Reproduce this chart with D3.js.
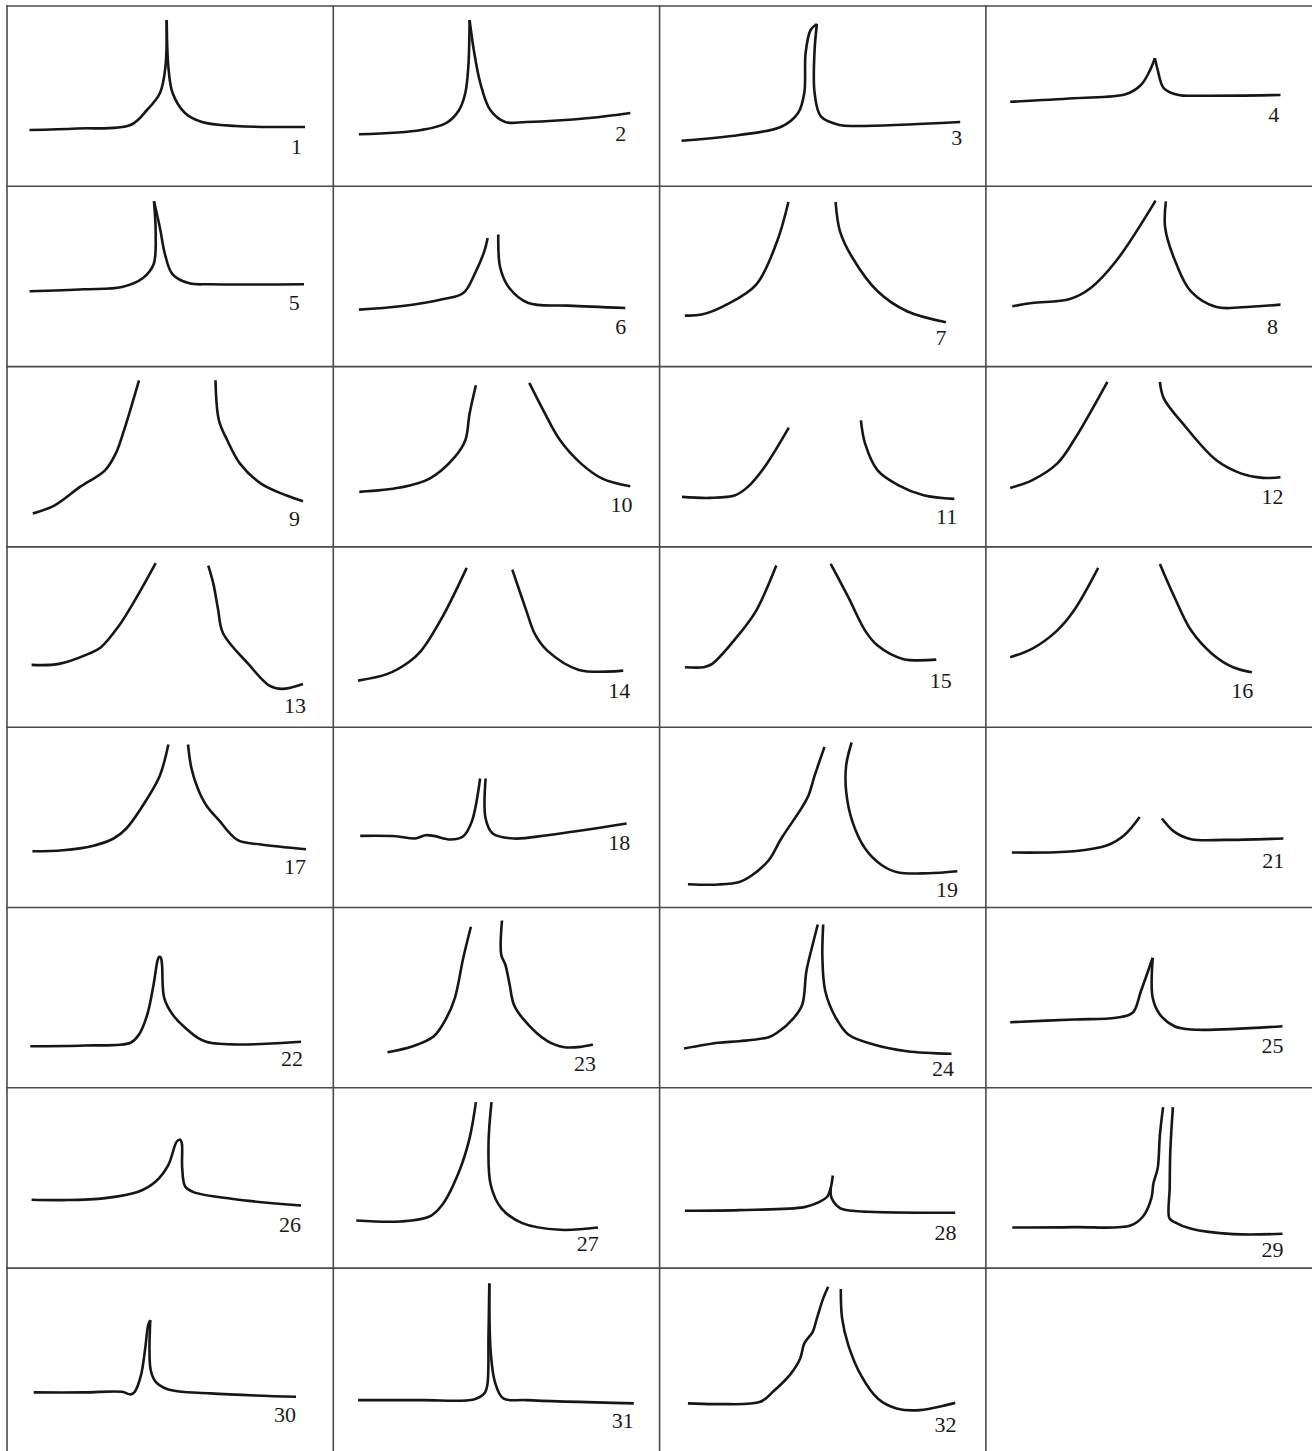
<!DOCTYPE html>
<html>
<head>
<meta charset="utf-8">
<script src="https://cdn.jsdelivr.net/npm/d3@7"></script>
<style>
  html, body { margin: 0; padding: 0; background: #fff; }
  svg { display: block; }
</style>
</head>
<body>
<div id="chart"></div>
<script>
// ---- data: curve shapes, in cell units (x 0..326, y 0..180), one array per panel ----
const curve01 = [
  [[22.5,124],[70,122.5],[123.5,119],[140,104],[153,87],[158.4,61],[159.7,14]],
  [[159.7,14],[161.4,61],[165.6,87],[178,107],[195,116],[228.7,120],[298,121]]
];
const curve02 = [
  [[25.6,128.3],[88,124],[113,117],[125.8,104],[132,87],[135,61],[136.3,14]],
  [[136.3,14],[140.5,44],[147,77],[157,104],[172,116],[193,116],[256,112],[297,107]]
];
const curve03 = [
  [[22,134.7],[79.8,129],[121.7,120.7],[138.5,107],[144.7,87],[146,47],[151,24],[157.3,18]],
  [[157.3,18],[155,44],[155,87],[161.5,110.7],[180,119],[197,120],[300.6,116]]
];
const curve04 = [
  [[24.3,95.7],[88,92.3],[140.4,88],[155,79],[163.4,65.7],[169,52.3]],
  [[169,52.3],[171.8,64],[178,82.3],[192.8,89],[213.7,89.7],[294.6,89]]
];
const curve05 = [
  [[22.5,105],[77,103],[115,100.7],[136,91.7],[146.6,78],[148.7,48],[147,15]],
  [[147,15],[153,42],[158,68],[165.6,88],[182.4,97],[203,98],[297,98]]
];
const curve06 = [
  [[25.6,123.3],[67,120],[109,113],[130,106.7],[142.6,85],[151,65],[154.4,51.7]],
  [[165,48.3],[167,81.7],[176,101.7],[195,116.7],[235,119.3],[292,121.7]]
];
const curve07 = [
  [[25.3,129.3],[42,128.3],[67,118.3],[96.6,98.3],[117.5,55],[128.8,15.7]],
  [[176,15.7],[180.4,45],[193,71.7],[218,105],[247.4,125],[286.4,136]]
];
const curve08 = [
  [[26.4,120],[46,116.7],[84,112.7],[104.8,101.7],[130,75],[169.7,14.3]],
  [[180,15],[179.3,41.7],[190.7,78.3],[205,105],[230.5,120.7],[255.6,121],[294.6,118.3]]
];
const curve09 = [
  [[25.8,147],[47.7,138.7],[73,120.3],[98,103.7],[108.7,87],[117,63.7],[132,13.7]],
  [[208.5,13.7],[211.9,53.7],[220.3,73.7],[233,97],[254,117],[279,128.7],[296,134.7]]
];
const curve10 = [
  [[26,125.3],[66.8,121],[96.3,112],[121.6,90.3],[132,73.7],[136.3,47],[142.6,18.7]],
  [[196,16.3],[210,43.7],[226.8,73.7],[247.8,97],[269,112],[297,119.7]]
];
const curve11 = [
  [[22.4,130.3],[50.5,131.3],[75.6,128.7],[88.2,120.3],[105,100.3],[129.2,61]],
  [[201.3,53.7],[205.5,77],[218,103.7],[239,118.7],[264,128.7],[294.7,132.3]]
];
const curve12 = [
  [[24.3,121.3],[46,113.7],[71.2,97],[88,73.7],[121.5,15.3]],
  [[174,15.3],[178,32],[197,57],[230.5,93.7],[255.6,107],[276.6,111.3],[294.6,110.7]]
];
const curve13 = [
  [[24.6,118],[52,117],[81.4,107],[94,100.3],[110.9,80.3],[127.7,53.7],[148.7,16.3]],
  [[201.3,18.7],[206.4,37],[211,62],[216,86.3],[241.3,117],[262.4,138.7],[275,142],[296,137]]
];
const curve14 = [
  [[24.8,133.7],[54.2,127],[75.3,115.3],[88,103.7],[109,70.3],[133.4,21]],
  [[179,22.7],[193,63.7],[201.5,87],[214,103.7],[245.7,123],[289.9,123.7]]
];
const curve15 = [
  [[25.3,120.3],[44.2,120.3],[52.6,117],[79.8,87],[96.6,63.7],[116.7,18.7]],
  [[171.1,17],[188.7,50.3],[205.5,83.7],[218,98.7],[243.2,112],[276.7,112.7]]
];
const curve16 = [
  [[24.3,110.3],[46,102],[71.2,83.7],[88,63.7],[112.3,21]],
  [[174,17],[188.6,50.3],[205.3,83.7],[226.3,107],[247.2,120.3],[266,125.3]]
];
const curve17 = [
  [[25.4,124],[56,123],[85.6,118.7],[106.6,111.3],[119.3,101.3],[140.3,71.3],[153,48],[161.4,17.3]],
  [[181,17.3],[184.5,41.3],[190.8,61.3],[199.2,78],[211.9,93],[230.8,113],[254,117.3],[299,122]]
];
const curve18 = [
  [[26.9,108.7],[62.6,109],[81.6,111.3],[92,108],[100.5,108.7],[117.4,112.3],[130,109],[138.4,94.7],[146.8,51.3]],
  [[152.3,51.3],[152.3,91.3],[159.4,106.3],[180.5,111.3],[214.2,108],[293.3,96.3]]
];
const curve19 = [
  [[28.3,157],[58.9,157.3],[79.8,154.7],[92.4,148],[109.1,133],[121.7,111.3],[142.7,79.7],[149,68],[155.2,48],[164.9,19.7]],
  [[192,15.3],[186.6,38],[186.6,64.7],[192.9,94.7],[205.5,121.3],[222.3,138],[239,145.3],[268.4,146],[297.7,144]]
];
const curve21 = [
  [[26,125.3],[88,124],[121.5,118],[138.3,108],[153.8,89.7]],
  [[176,91.3],[188.6,104.7],[205.3,112],[238.8,112.7],[297.5,111.3]]
];
const curve22 = [
  [[23.3,138.7],[77.2,138],[123.5,135.3],[132,127],[140.3,107],[146.6,77],[150.8,52],[152.3,49.3],[153.8,50],[155,57],[157.2,90.3],[165.6,107],[178.2,120.3],[199.2,134.3],[294,134.3]]
];
const curve23 = [
  [[54.2,144.7],[79.5,138.7],[100.5,128.7],[113.2,110.3],[121.6,90.3],[130,50.3],[137.6,19.3]],
  [[168.7,13],[167.9,47],[172,57],[176.3,77],[180.5,97],[189,110.3],[214.2,133.7],[231,139.7],[247.8,139.3],[259.6,137]]
];
const curve24 = [
  [[24.5,141],[58.9,135.3],[79.8,133.7],[109.1,129.7],[117.5,125.3],[134.3,110.3],[142.7,97],[146.8,63.7],[153.1,37],[158.2,17]],
  [[163.6,17],[162.8,50.3],[165.7,83.7],[176.2,110.3],[188.7,127],[213.9,137],[247.4,143.7],[291.8,146.3]]
];
const curve25 = [
  [[24.3,114.7],[88,112],[130,110.3],[146.7,105.3],[155,83.7],[166.8,50.3]],
  [[166.8,50.3],[166.8,90.3],[174,107],[188.6,118.7],[205.3,122],[296.6,118.7]]
];
const curve26 = [
  [[24.6,112],[56.1,112.3],[98.2,110.3],[131.9,103.7],[148.7,93.7],[161.4,77],[169.8,53.7],[173.1,52],[174.8,55.3],[175.2,80.3],[178.2,98.7],[186.6,104.3],[224.5,111],[294,117.7]]
];
const curve27 = [
  [[23,132.7],[66.9,133.7],[96.3,128.7],[109,117],[125.8,83.7],[136.3,50.3],[142.6,14.3]],
  [[158.2,14.3],[155.2,57],[157.4,97],[167.9,120.3],[189,135.3],[226.8,142],[264.7,139.7]]
];
const curve28 = [
  [[25.3,123],[79.8,122.3],[144.7,119.3],[159.4,114.3],[167.8,108.7],[171.1,100.3],[173.2,87.7]],
  [[171.1,100.3],[172,110.3],[180.4,120.3],[192.9,123],[295.6,125]]
];
const curve29 = [
  [[26.4,139.7],[88,139.3],[144.6,137.7],[157.1,128.7],[165.5,110.3],[167.6,95.3],[171.8,80.3],[174,47],[177.2,19.3]],
  [[187,19.3],[184.4,63.7],[183.8,100],[183.5,130.3],[188.6,134.3],[205.3,141],[247.2,146.3],[296.6,146]]
];
const curve30 = [
  [[26.7,124.3],[77.2,124.3],[115,123.7],[123.5,126.3],[127.7,123.7],[134,107],[138.2,80.3],[141.2,57],[143.3,52]],
  [[143.3,52],[143.7,102],[148.7,113.7],[161.4,121.3],[203.5,125.3],[289,128.7]]
];
const curve31 = [
  [[24.8,132],[87.9,132],[140.5,131.3],[151,125.3],[154,117],[155.2,67],[156,15.3]],
  [[156,15.3],[157.4,83.7],[161.6,113.7],[170,130.3],[193,132],[300.5,135.3]]
];
const curve32 = [
  [[28.3,135.3],[58.9,136],[100.8,133.7],[113.3,123.7],[130.1,107],[140.6,90.3],[144.7,75.3],[153.1,63.7],[157.3,50.3],[163.6,30.3],[168.6,18.7]],
  [[181.2,21],[182.5,50.3],[188.7,77],[201.3,107],[218.1,130.3],[237,140.3],[260,142],[295.6,134.7]]
];

// panel labels, in reading order
const labels = ["1","2","3","4","5","6","7","8","9","10","11","12","13","14","15","16",
                "17","18","19","21","22","23","24","25","26","27","28","29","30","31","32"];

const curves = [curve01,curve02,curve03,curve04,curve05,curve06,curve07,curve08,
                curve09,curve10,curve11,curve12,curve13,curve14,curve15,curve16,
                curve17,curve18,curve19,curve21,curve22,curve23,curve24,curve25,
                curve26,curve27,curve28,curve29,curve30,curve31,curve32];

// ---- layout (label anchors in cell units: right edge, baseline) ----
const labelAnchor = [
  [295,148],[293,134.7],[302.7,139],[293.3,116.3],
  [292.7,123.3],[293,147.7],[287,159],[292,147.7],
  [293,159.3],[299.2,145.3],[297.7,157],[297.5,137],
  [299,166],[297,151],[292.2,141],[267.3,151],
  [299,147],[297,123],[298.5,169.7],[298.3,140.7],
  [296,158.7],[262.6,163.7],[294.3,168.7],[297.5,145.3],
  [294,143.7],[265.5,162.7],[296.8,152],[297.5,168.7],
  [289,153.7],[300.5,160.3],[296.8,163.7]
];

const W = 1312, H = 1451;
const nCols = 4, nRows = 8;
const colPos = d3.scaleLinear().domain([0, nCols]).range([7, 7 + nCols * 326.3]);
const rowPos = d3.scaleLinear().domain([0, nRows]).range([6, 6 + nRows * 180.3]);

const svg = d3.select("#chart").append("svg")
  .attr("width", W).attr("height", H)
  .attr("viewBox", `0 0 ${W} ${H}`);

// grid
const grid = svg.append("g").attr("stroke", "#4a4a4a").attr("stroke-width", 1.6).attr("fill", "none");
d3.range(0, nCols).forEach(c => {
  grid.append("line")
    .attr("x1", colPos(c)).attr("x2", colPos(c))
    .attr("y1", rowPos(0) - 0.8).attr("y2", H);
});
d3.range(0, nRows).forEach(r => {
  grid.append("line")
    .attr("x1", colPos(0) - 0.8).attr("x2", W)
    .attr("y1", rowPos(r)).attr("y2", rowPos(r));
});

// panels
curves.forEach((segs, i) => {
  const c = i % nCols, r = Math.floor(i / nCols);
  const x = d3.scaleLinear().domain([0, 326.3]).range([colPos(c), colPos(c + 1)]);
  const y = d3.scaleLinear().domain([0, 180.3]).range([rowPos(r), rowPos(r + 1)]);
  const line = d3.line()
    .x(d => x(d[0])).y(d => y(d[1]))
    .curve(d3.curveCatmullRom.alpha(0.5));
  const g = svg.append("g");
  g.selectAll("path").data(segs).join("path")
    .attr("d", line)
    .attr("fill", "none")
    .attr("stroke", "#161616")
    .attr("stroke-width", 2.6)
    .attr("stroke-linecap", "butt")
    .attr("stroke-linejoin", "round");
  const a = labelAnchor[i];
  g.append("text")
    .attr("x", x(a[0])).attr("y", y(a[1]))
    .attr("text-anchor", "end")
    .attr("font-family", "'Liberation Serif', 'DejaVu Serif', serif")
    .attr("font-size", 22)
    .attr("fill", "#1a1a1a")
    .text(labels[i]);
});
</script>
</body>
</html>
